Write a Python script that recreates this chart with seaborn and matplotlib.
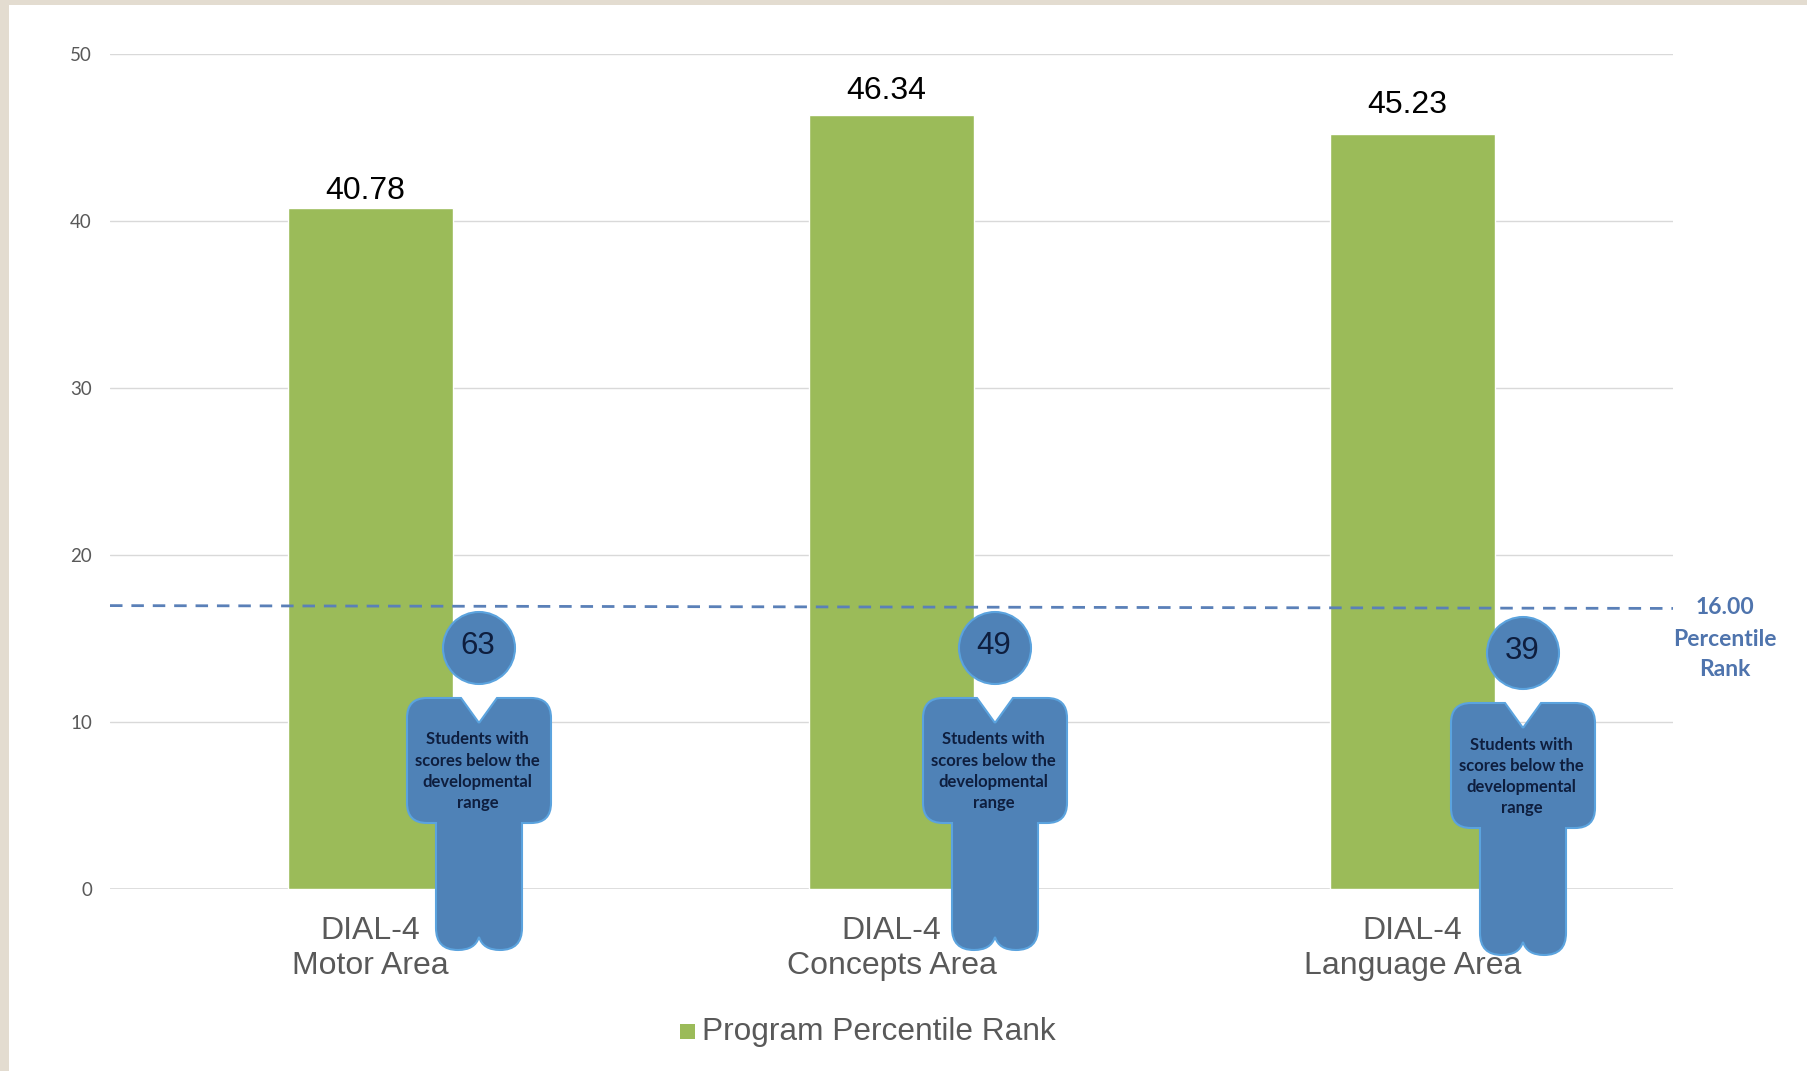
# %% ---- Requirements and constants ------------------------
import matplotlib
matplotlib.use('Agg')
import matplotlib.pyplot as plt
import seaborn as sns
import pandas as pd
from matplotlib.patches import Circle, PathPatch, Rectangle
from matplotlib.path import Path

categories = ['DIAL-4\nMotor Area', 'DIAL-4\nConcepts Area', 'DIAL-4\nLanguage Area']
values = [40.78, 46.34, 45.23]
label_offsets = [1.7, 6.7, 10]
students = [63, 49, 39]
y_ticks = [0, 10, 20, 30, 40, 50]
series_name = 'Program Percentile Rank'
threshold_line = [16.97, 16.8]
threshold_text = ['16.00', 'Percentile', 'Rank']
icon_text = 'Students with\nscores below the\ndevelopmental\nrange'

GREEN = '#9bbb59'
ICON = '#4f82b7'
ICON_EDGE = '#5ba3de'
NAVY = '#0e1e3e'
GRAY = '#595959'
BEIGE = '#e3dcd0'
W, H = 1807, 1071


# %% ---- Function and class ------------------------
def person(ax, cx, cy, count):
    # pixel coordinates on the overlay, cx/cy is the head centre
    ax.add_patch(Circle((cx, cy), 36, fc=ICON, ec=ICON_EDGE, lw=1.5))
    ax.text(cx - 1, cy - 2, str(count), ha='center', va='center',
            fontsize=22.5, color=NAVY, family='Liberation Sans')

    top, low, foot = cy + 50, cy + 175, cy + 302
    start = (0, top + 25)
    # right half: a straight piece is (end,), a rounded one is (control, end)
    right = [((18, top),), ((52, top),),
             ((72, top), (72, top + 20)),
             ((72, low - 20),),
             ((72, low), (52, low)),
             ((43, low),), ((43, foot - 22),),
             ((43, foot), (21, foot)),
             ((4, foot), (0, foot - 13))]

    verts, codes = [(cx, start[1])], [Path.MOVETO]
    for seg in right:
        for p in seg:
            verts.append((cx + p[0], p[1]))
            codes.append(Path.LINETO if len(seg) == 1 else Path.CURVE3)

    # left half walks the same pieces backwards
    ends = [start] + [seg[-1] for seg in right]
    for i in range(len(right) - 1, -1, -1):
        seg, end = right[i], ends[i]
        if len(seg) == 2:
            verts.append((cx - seg[0][0], seg[0][1]))
            codes.append(Path.CURVE3)
        verts.append((cx - end[0], end[1]))
        codes.append(Path.CURVE3 if len(seg) == 2 else Path.LINETO)
    ax.add_patch(PathPatch(Path(verts, codes), fc=ICON, ec=ICON_EDGE, lw=1.5))

    for k, line in enumerate(icon_text.split('\n')):
        ax.text(cx - 1.5, cy + 91.5 + k * 21.3, line, ha='center', va='center',
                fontsize=12, fontweight='bold', color=NAVY, family='Lato')


# %% ---- Play ground ------------------------
sns.set_theme(style='white')
plt.rcParams['font.family'] = ['Liberation Sans', 'DejaVu Sans']

df = pd.DataFrame({'area': categories, 'rank': values})

fig = plt.figure(figsize=(W / 100, H / 100), dpi=100, facecolor='white')
ax = fig.add_axes([110 / W, 1 - 889 / H, 1563 / W, 835 / H])

sns.barplot(data=df, x='area', y='rank', color=GREEN, saturation=1,
            width=0.316, ax=ax, zorder=2)
ax.set_xlim(-0.5, 2.5)
ax.set_ylim(0, 50)
ax.set_yticks(y_ticks)
ax.set_xlabel('')
ax.set_ylabel('')
ax.grid(axis='y', color='#d9d9d9', lw=1)
ax.set_axisbelow(True)
sns.despine(ax=ax, left=True, bottom=True, top=True, right=True)
ax.axhline(0, color='#d9d9d9', lw=1.2, zorder=1)

ax.tick_params(axis='y', length=0, pad=13, labelsize=13.5, labelcolor=GRAY)
ax.tick_params(axis='x', length=0, pad=19.5, labelsize=23, labelcolor=GRAY)
for label in ax.get_yticklabels():
    label.set_family('Lato')

for i, v in enumerate(values):
    ax.annotate(f'{v:.2f}', xy=(i, v), xytext=(-3.6, label_offsets[i]),
                textcoords='offset points', ha='center', va='bottom',
                fontsize=23, color='black')

ax.plot([-0.5, 2.5], threshold_line, color='#5a80b8', lw=2,
        dashes=(4.5, 3.2), zorder=3, clip_on=False)

# overlay in pixels for the page band, people and side labels
over = fig.add_axes([0, 0, 1, 1], zorder=5)
over.set_xlim(0, W)
over.set_ylim(H, 0)
over.axis('off')
over.patch.set_alpha(0)

over.add_patch(Rectangle((0, 0), W, 5, fc=BEIGE, ec='none'))
over.add_patch(Rectangle((0, 0), 9, H, fc=BEIGE, ec='none'))

for (cx, cy), n in zip([(479, 648), (995, 648), (1523, 653)], students):
    person(over, cx, cy, n)

for y, line in zip([608, 640, 669], threshold_text):
    over.text(1725, y, line, ha='center', va='center', fontsize=16.5,
              fontweight='bold', color='#4f74ad', family='Lato')

over.add_patch(Rectangle((680, 1024), 15, 15, fc=GREEN, ec='none'))
over.text(702, 1032, series_name, ha='left', va='center', fontsize=22.8, color=GRAY)

fig.savefig('out.png', dpi=100)
